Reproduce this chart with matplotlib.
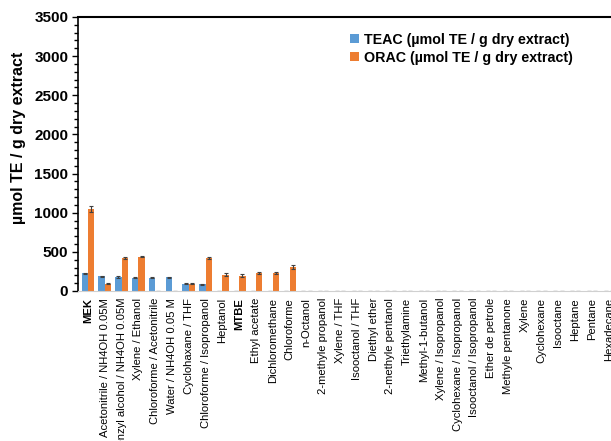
import numpy as np
import matplotlib.pyplot as plt
from matplotlib.ticker import MultipleLocator

plt.rcParams["font.family"] = ["Liberation Sans", "DejaVu Sans"]

solvents = ["MEK", "Acetonitrile / NH4OH 0.05M", "Benzyl alcohol / NH4OH 0.05M",
            "Xylene / Ethanol", "Chloroforme / Acetonitrile", "Water / NH4OH 0.05 M",
            "Cyclohaxane / THF", "Chloroforme / Isopropanol", "Heptanol", "MTBE",
            "Ethyl acetate", "Dichloromethane", "Chloroforme", "n-Octanol",
            "2-methyle propanol", "Xylene / THF", "Isooctanol / THF", "Diethyl ether",
            "2-methyle pentanol", "Triethylamine", "Methyl-1-butanol",
            "Xylene / Isopropanol", "Cyclohexane / Isopropanol",
            "Isooctanol / Isopropanol", "Ether de petrole", "Methyle pentanone",
            "Xylene", "Cyclohexane", "Isooctane", "Heptane", "Pentane", "Hexadecane"]
teac = [225, 188, 180, 172, 168, 175, 95, 88] + [0] * 24
teac_err = [10, 8, 8, 8, 6, 6, 5, 5] + [0] * 24
orac = [1050, 95, 420, 440, 0, 0, 90, 420, 210, 195, 228, 235, 310] + [0] * 19
orac_err = [40, 8, 10, 12, 0, 0, 6, 10, 18, 20, 12, 12, 25] + [0] * 19
bold_labels = ["MEK", "MTBE"]

fig = plt.figure(figsize=(6.11, 4.41), dpi=100)
ax = fig.add_axes([78 / 611, 1 - 291 / 441, 540 / 611, 274 / 441])

x = np.arange(len(solvents))
w = 0.38
ax.bar(x - w / 2, teac, w, color="#5B9BD5", label="TEAC (µmol TE / g dry extract)",
       yerr=teac_err, error_kw=dict(ecolor="#404040", elinewidth=0.8, capsize=1.5, capthick=0.8))
ax.bar(x + w / 2, orac, w, color="#ED7D31", label="ORAC (µmol TE / g dry extract)",
       yerr=orac_err, error_kw=dict(ecolor="#404040", elinewidth=0.8, capsize=1.5, capthick=0.8))

ax.set_xlim(-0.6, len(solvents) - 0.45)
ax.set_ylim(0, 3500)
ax.yaxis.set_major_locator(MultipleLocator(500))
ax.yaxis.set_minor_locator(MultipleLocator(100))
ax.tick_params(axis="y", which="major", length=4, width=1, labelsize=11, pad=3)
ax.tick_params(axis="y", which="minor", length=3, width=1)
for lbl in ax.get_yticklabels():
    lbl.set_fontweight("bold")

ax.set_xticks(x)
ax.set_xticklabels(solvents, rotation=90, fontsize=8.1)
ax.tick_params(axis="x", length=0, pad=5)
for lbl in ax.get_xticklabels():
    if lbl.get_text() in bold_labels:
        lbl.set_fontweight("bold")

ax.set_ylabel("µmol TE / g dry extract", fontsize=11.5, fontweight="bold")
ax.yaxis.set_label_coords(-0.097, 0.56)

ax.spines["right"].set_visible(False)
ax.spines["top"].set_linewidth(1.5)
ax.spines["left"].set_linewidth(1.2)
ax.spines["bottom"].set_color("#d0d0d0")

ax.legend(loc="upper left", bbox_to_anchor=(0.48, 0.99), frameon=False,
          prop=dict(size=10.3, weight="bold"), handlelength=0.6, handleheight=0.6,
          handletextpad=0.4, labelspacing=0.3)

plt.savefig("out.png", dpi=100)
